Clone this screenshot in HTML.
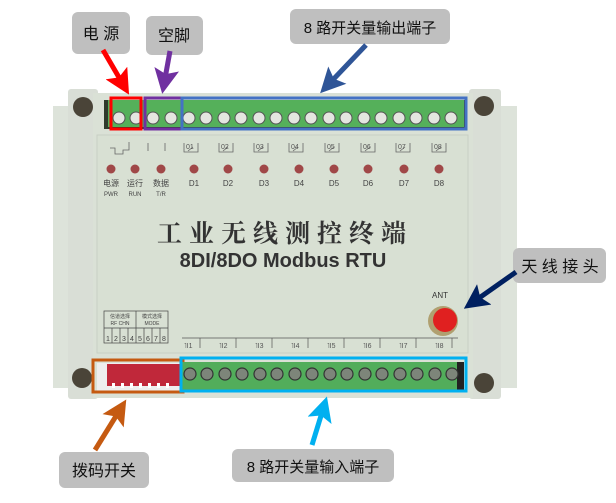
<!DOCTYPE html>
<html><head><meta charset="utf-8"><style>
html,body{margin:0;padding:0;background:#fff;}
svg{display:block;}
text{font-family:"Liberation Sans","Noto Sans CJK SC",sans-serif;}
</style></head><body>
<svg width="616" height="503" viewBox="0 0 616 503" xmlns="http://www.w3.org/2000/svg">
<defs>
<marker id="ah" markerWidth="5" markerHeight="5" refX="3" refY="2.5" orient="auto" markerUnits="strokeWidth"><path d="M0,0 L5,2.5 L0,5 L1,2.5 z" fill="context-stroke"/></marker>
</defs>
<rect x="53" y="106" width="18" height="282" fill="#dde3da"/>
<rect x="499" y="106" width="18" height="282" fill="#dde3da"/>
<rect x="68" y="89" width="30" height="310" rx="3" fill="#d9ded6"/>
<rect x="469" y="89" width="32" height="310" rx="3" fill="#d9ded6"/>
<rect x="93" y="93" width="380" height="305" fill="#dae1d6"/>
<rect x="97" y="135" width="371" height="218" fill="#d8e0d3" stroke="#c8cfc4"/>
<circle cx="83" cy="107" r="10" fill="#4a4438"/>
<circle cx="484" cy="106" r="10" fill="#4a4438"/>
<circle cx="82" cy="378" r="10" fill="#4a4438"/>
<circle cx="484" cy="383" r="10" fill="#4a4438"/>
<rect x="104" y="100" width="362" height="29" fill="#2f3a2c"/>
<rect x="108" y="100" width="356" height="27" fill="#55b05a"/>
<g fill="#e4e6e0" stroke="#555" stroke-width="1">
<circle cx="119" cy="118" r="6"/><circle cx="136" cy="118" r="6"/>
<circle cx="153" cy="118" r="6"/><circle cx="171" cy="118" r="6"/>
<circle cx="189" cy="118" r="6"/><circle cx="206" cy="118" r="6"/>
<circle cx="224" cy="118" r="6"/><circle cx="241" cy="118" r="6"/>
<circle cx="259" cy="118" r="6"/><circle cx="276" cy="118" r="6"/>
<circle cx="294" cy="118" r="6"/><circle cx="311" cy="118" r="6"/>
<circle cx="329" cy="118" r="6"/><circle cx="346" cy="118" r="6"/>
<circle cx="364" cy="118" r="6"/><circle cx="381" cy="118" r="6"/>
<circle cx="399" cy="118" r="6"/><circle cx="416" cy="118" r="6"/>
<circle cx="434" cy="118" r="6"/><circle cx="451" cy="118" r="6"/>
</g>
<rect x="111" y="98" width="30" height="31" fill="none" stroke="#f00" stroke-width="3"/>
<rect x="145" y="98" width="37" height="31" fill="none" stroke="#7030a0" stroke-width="3"/>
<rect x="182" y="98" width="284" height="31" fill="none" stroke="#4472c4" stroke-width="3"/>
<g stroke="#666" fill="none" stroke-width="0.8">
<path d="M184,143 v9 h14 v-9 M188,151 l5,-4"/><path d="M219,143 v9 h14 v-9 M223,151 l5,-4"/>
<path d="M254,143 v9 h14 v-9 M258,151 l5,-4"/><path d="M289,143 v9 h14 v-9 M293,151 l5,-4"/>
<path d="M325,143 v9 h14 v-9 M329,151 l5,-4"/><path d="M361,143 v9 h14 v-9 M365,151 l5,-4"/>
<path d="M396,143 v9 h14 v-9 M400,151 l5,-4"/><path d="M432,143 v9 h14 v-9 M436,151 l5,-4"/>
<path d="M110,148 h5 v6 h8 v-4 h6 v-8 M148,143 v8 M165,143 v8"/>
</g>
<g font-size="7" fill="#555">
<text x="186" y="149">01</text><text x="221" y="149">02</text><text x="256" y="149">03</text><text x="291" y="149">04</text>
<text x="327" y="149">05</text><text x="363" y="149">06</text><text x="398" y="149">07</text><text x="434" y="149">08</text>
</g>
<g fill="#a04848">
<circle cx="111" cy="169" r="4.5"/><circle cx="135" cy="169" r="4.5"/><circle cx="161" cy="169" r="4.5"/>
<circle cx="194" cy="169" r="4.5"/><circle cx="228" cy="169" r="4.5"/><circle cx="264" cy="169" r="4.5"/>
<circle cx="299" cy="169" r="4.5"/><circle cx="334" cy="169" r="4.5"/><circle cx="368" cy="169" r="4.5"/>
<circle cx="404" cy="169" r="4.5"/><circle cx="439" cy="169" r="4.5"/>
</g>
<g font-size="8" fill="#444" text-anchor="middle">
<text x="111" y="186">电源</text><text x="135" y="186">运行</text><text x="161" y="186">数据</text>
<text x="194" y="186">D1</text><text x="228" y="186">D2</text><text x="264" y="186">D3</text><text x="299" y="186">D4</text>
<text x="334" y="186">D5</text><text x="368" y="186">D6</text><text x="404" y="186">D7</text><text x="439" y="186">D8</text>
</g>
<g font-size="6" fill="#444" text-anchor="middle">
<text x="111" y="196">PWR</text><text x="135" y="196">RUN</text><text x="161" y="196">T/R</text>
</g>
<text x="285" y="242" font-size="25" font-weight="bold" fill="#333" text-anchor="middle" letter-spacing="7" style='font-family:"Noto Serif CJK SC",serif'>工业无线测控终端</text>
<text x="283" y="267" font-size="20" font-weight="bold" fill="#333" text-anchor="middle">8DI/8DO Modbus RTU</text>
<g stroke="#444" fill="none" stroke-width="0.7">
<rect x="104" y="311" width="64" height="32"/><line x1="136" y1="311" x2="136" y2="343"/><line x1="104" y1="328" x2="168" y2="328"/>
<path d="M112,328v15M120,328v15M128,328v15M144,328v15M152,328v15M160,328v15"/>
</g>
<g font-size="5" fill="#444" text-anchor="middle"><text x="120" y="318">信道选择</text><text x="120" y="325">RF CHN</text><text x="152" y="318">模式选择</text><text x="152" y="325">MODE</text></g>
<g font-size="7" fill="#444" text-anchor="middle"><text x="108" y="341">1</text><text x="116" y="341">2</text><text x="124" y="341">3</text><text x="132" y="341">4</text><text x="140" y="341">5</text><text x="148" y="341">6</text><text x="156" y="341">7</text><text x="164" y="341">8</text></g>
<path d="M182,338 h276 M200,338v10 M236,338v10 M272,338v10 M308,338v10 M344,338v10 M380,338v10 M416,338v10 M452,338v10" stroke="#555" stroke-width="0.7" fill="none"/>
<g font-size="7" fill="#555"><text x="184" y="348">˥I1</text><text x="219" y="348">˥I2</text><text x="255" y="348">˥I3</text><text x="291" y="348">˥I4</text><text x="327" y="348">˥I5</text><text x="363" y="348">˥I6</text><text x="399" y="348">˥I7</text><text x="435" y="348">˥I8</text></g>
<text x="440" y="298" font-size="8" fill="#333" text-anchor="middle">ANT</text>
<circle cx="443" cy="321" r="15" fill="#b0a070"/>
<circle cx="445" cy="320" r="12" fill="#e02020"/>
<rect x="97" y="363" width="86" height="28" fill="#eee"/>
<rect x="107" y="364" width="74" height="22" fill="#c0283a"/>
<g fill="#fff"><rect x="112" y="383" width="3" height="5"/><rect x="121" y="383" width="3" height="5"/><rect x="130" y="383" width="3" height="5"/><rect x="139" y="383" width="3" height="5"/><rect x="148" y="383" width="3" height="5"/><rect x="157" y="383" width="3" height="5"/><rect x="166" y="383" width="3" height="5"/></g>
<rect x="93" y="360" width="90" height="32" fill="none" stroke="#c55a11" stroke-width="3"/>
<rect x="182" y="362" width="282" height="28" fill="#52ad5b"/>
<rect x="457" y="362" width="7" height="28" fill="#222"/>
<g fill="#7d857a" stroke="#333" stroke-width="1.2">
<circle cx="190" cy="374" r="6"/><circle cx="207" cy="374" r="6"/><circle cx="225" cy="374" r="6"/><circle cx="242" cy="374" r="6"/>
<circle cx="260" cy="374" r="6"/><circle cx="277" cy="374" r="6"/><circle cx="295" cy="374" r="6"/><circle cx="312" cy="374" r="6"/>
<circle cx="330" cy="374" r="6"/><circle cx="347" cy="374" r="6"/><circle cx="365" cy="374" r="6"/><circle cx="382" cy="374" r="6"/>
<circle cx="400" cy="374" r="6"/><circle cx="417" cy="374" r="6"/><circle cx="435" cy="374" r="6"/><circle cx="452" cy="374" r="6"/>
</g>
<rect x="181" y="358" width="285" height="33" fill="none" stroke="#00b0f0" stroke-width="3"/>
<g fill="#bfbfbf">
<rect x="72" y="12" width="58" height="42" rx="6"/>
<rect x="146" y="16" width="57" height="39" rx="6"/>
<rect x="290" y="9" width="160" height="35" rx="6"/>
<rect x="513" y="248" width="93" height="35" rx="6"/>
<rect x="59" y="452" width="90" height="36" rx="6"/>
<rect x="232" y="449" width="162" height="33" rx="6"/>
</g>
<g font-size="16" fill="#111" text-anchor="middle">
<text x="101" y="39">电 源</text>
<text x="174" y="41">空脚</text>
<text x="370" y="33" font-size="15">8 路开关量输出端子</text>
<text x="560" y="272">天 线 接 头</text>
<text x="104" y="476">拨码开关</text>
<text x="313" y="472" font-size="15">8 路开关量输入端子</text>
</g>
<g stroke-width="5" fill="none">
<line x1="103" y1="50" x2="124" y2="86" stroke="#ff0000" marker-end="url(#ah)"/>
<line x1="170" y1="51" x2="164" y2="84" stroke="#7030a0" marker-end="url(#ah)"/>
<line x1="366" y1="45" x2="327" y2="86" stroke="#2f5597" marker-end="url(#ah)"/>
<line x1="516" y1="272" x2="472" y2="303" stroke="#002060" marker-end="url(#ah)"/>
<line x1="95" y1="450" x2="121" y2="408" stroke="#c55a11" marker-end="url(#ah)"/>
<line x1="312" y1="445" x2="324" y2="406" stroke="#00b0f0" marker-end="url(#ah)"/>
</g>
</svg>
</body></html>
